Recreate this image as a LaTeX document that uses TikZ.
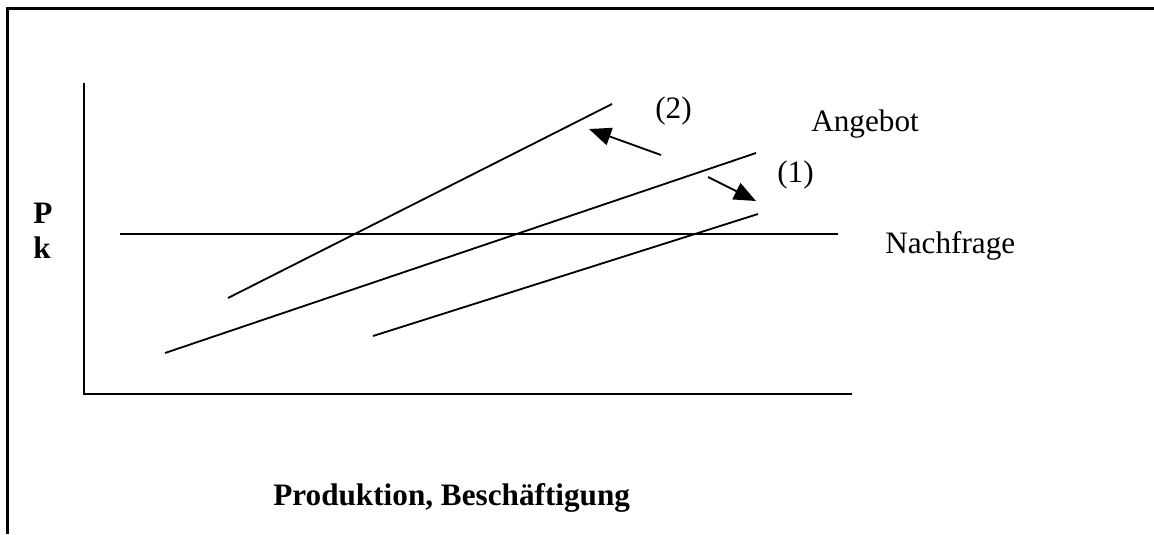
\documentclass[tikz,border=0pt]{standalone}
\usepackage{fontspec}
\setmainfont{Liberation Serif}
\usepackage{tikz}
\usetikzlibrary{arrows.meta}

\begin{document}
\begin{tikzpicture}[
    x=0.025cm, y=-0.025cm,
    frame/.style={line width=0.075cm},
    axis/.style={line width=1.4pt},
    curve/.style={line width=1.3pt},
    shiftarrow/.style={line width=1.3pt,-{Triangle[length=0.55cm,width=0.45cm]}},
    lab/.style={font=\fontsize{22.2}{26}\selectfont,inner sep=0pt,anchor=base west},
    blab/.style={lab,font=\fontsize{22.2}{26}\selectfont\bfseries}
]
\useasboundingbox (0,0) rectangle (1154,534);

\draw[frame] (7.5,534) -- (7.5,8.5) -- (1154,8.5);

% axes
\coordinate (origin) at (84,394);
\draw[axis] (84,83) -- (origin) -- (852,394);

% supply curves and demand line
\draw[curve] (228,298) -- (612,104);
\draw[curve] (165,353) -- (756,153);
\draw[curve] (373,336) -- (758,214);
\draw[curve] (120,234) -- (838,234);

% shifts
\coordinate (s2from) at (661,155);
\coordinate (s2to) at (589,129);
\coordinate (s1from) at (708,177);
\coordinate (s1to) at (756,201);
\draw[shiftarrow] (s2from) -- (s2to);
\draw[shiftarrow] (s1from) -- (s1to);

\node[lab] (two) at (655,118) {(2)};
\node[lab] (one) at (777,182) {(1)};
\node[lab] (supply) at (811,131) {Angebot};
\node[lab] (demand) at (885,253) {Nachfrage};
\node[blab] (pk) at (33,223) {P};
\node[blab] (kk) at (33,258) {k};
\node[blab] (xlab) at (273,505) {Produktion, Beschäftigung};

\end{tikzpicture}
\end{document}
